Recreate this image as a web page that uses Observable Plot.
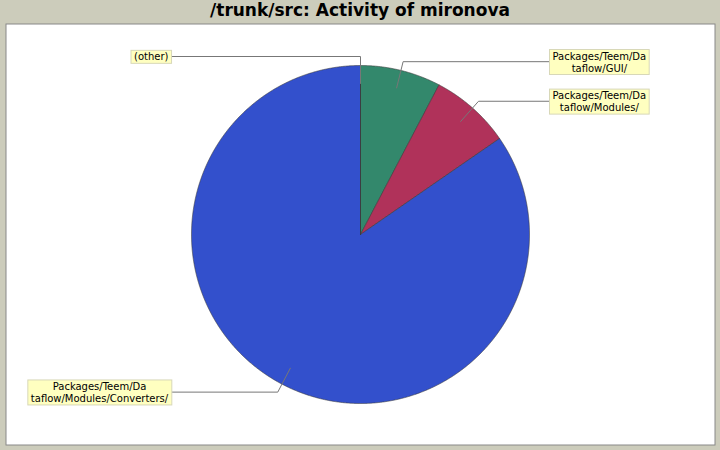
<!DOCTYPE html>
<html><head><meta charset="utf-8">
<script src="https://cdn.jsdelivr.net/npm/d3@7"></script>
<script src="https://cdn.jsdelivr.net/npm/@observablehq/plot@0.6"></script>
<style>
html,body{margin:0;padding:0;background:#ccccbb;overflow:hidden;}
#title{height:23px;line-height:23px;text-align:center;font:bold 17px "DejaVu Sans";color:#000;white-space:nowrap;}
#chart svg{display:block;}
</style></head><body>
<div id="title"></div>
<div id="chart"></div>
<script>
const titleText = "/trunk/src: Activity of mironova";
const categories = [
  "Packages/Teem/Dataflow/GUI/",
  "Packages/Teem/Dataflow/Modules/",
  "Packages/Teem/Dataflow/Modules/Converters/",
  "(other)"
];
const values = [13, 13, 143, 0];
const colors = ["#33886c", "#b0325a", "#3350cc", "#888888"];

document.getElementById("title").textContent = titleText;

// layout constants (pixels)
const W = 720, H = 427, ML = 5, MR = 5, MT = 0, MB = 5;
const CX = 360 - ML, CY = 211, RPX = 169; // center inside frame, radius
const innerW = W - ML - MR, innerH = H - MT - MB;

const total = d3.sum(values);
let acc = 0;
const slices = categories.map((c, i) => {
  const a0 = acc / total * 2 * Math.PI; acc += values[i];
  const a1 = acc / total * 2 * Math.PI;
  return {c, i, a0, a1, mid: (a0 + a1) / 2};
});

const polyPts = slices.flatMap(s => {
  const pts = [{s: s.c, x: 0, y: 0}];
  const n = Math.max(1, Math.ceil((s.a1 - s.a0) / (Math.PI / 720)));
  for (let k = 0; k <= n; k++) {
    const a = s.a0 + (s.a1 - s.a0) * k / n;
    pts.push({s: s.c, x: Math.sin(a), y: Math.cos(a)});
  }
  pts.push({s: s.c, x: 0, y: 0});
  return pts;
});

const rIn = 151 / RPX, rOut = 178 / RPX, edge = 189 / RPX;
const leaders = [], labels = [];
slices.forEach(s => {
  const side = Math.sin(s.mid) >= 0 ? 1 : -1;
  const ox = rOut * Math.sin(s.mid), oy = rOut * Math.cos(s.mid);
  leaders.push({k: s.c, x: rIn * Math.sin(s.mid), y: rIn * Math.cos(s.mid)});
  leaders.push({k: s.c, x: ox, y: oy});
  leaders.push({k: s.c, x: side * edge, y: oy});
  const txt = s.c.length > 16 ? s.c.slice(0, 16) + "\n" + s.c.slice(16) : s.c;
  labels.push({txt, side, x: side * edge, y: oy});
});

const plot = Plot.plot({
  width: W, height: H,
  marginLeft: ML, marginRight: MR, marginTop: MT, marginBottom: MB,
  style: {background: "transparent", fontFamily: "DejaVu Sans", fontSize: "10px", overflow: "visible"},
  x: {domain: [-CX / RPX, (innerW - CX) / RPX], axis: null},
  y: {domain: [-(innerH - CY) / RPX, CY / RPX], axis: null},
  color: {domain: categories, range: colors},
  marks: [
    Plot.frame({fill: "white", stroke: "#888", inset: 0.5}),
    Plot.line(polyPts, {x: "x", y: "y", z: "s", fill: "s", stroke: "#3a3a3a", strokeWidth: 0.6, curve: "linear"}),
    Plot.line(leaders, {x: "x", y: "y", z: "k", stroke: "#777", strokeWidth: 1}),
    Plot.text(labels, {x: "x", y: "y", text: "txt", textAnchor: "start", lineAnchor: "middle",
      lineHeight: 1.2, fontSize: 10, fill: "#000", className: "lbl"})
  ]
});
document.getElementById("chart").append(plot);

const svgNS = "http://www.w3.org/2000/svg";
const pad = 3;
plot.querySelectorAll("g.lbl text").forEach((t, i) => {
  const d = labels[i];
  t.setAttribute("text-anchor", "middle");
  const bb = t.getBBox();
  const g = document.createElementNS(svgNS, "g");
  const dx = d.side > 0 ? pad + bb.width / 2 : -(pad + bb.width / 2);
  g.setAttribute("transform", `translate(${dx},0)`);
  t.parentNode.insertBefore(g, t);
  const r = document.createElementNS(svgNS, "rect");
  r.setAttribute("transform", t.getAttribute("transform") || "");
  r.setAttribute("x", bb.x - pad);
  r.setAttribute("y", bb.y - 1);
  r.setAttribute("width", bb.width + 2 * pad);
  r.setAttribute("height", bb.height + 2);
  r.setAttribute("fill", "#ffffc0");
  r.setAttribute("stroke", "#d8d8b8");
  r.setAttribute("stroke-width", 1);
  g.append(r);
  g.append(t);
});
</script>
</body></html>
